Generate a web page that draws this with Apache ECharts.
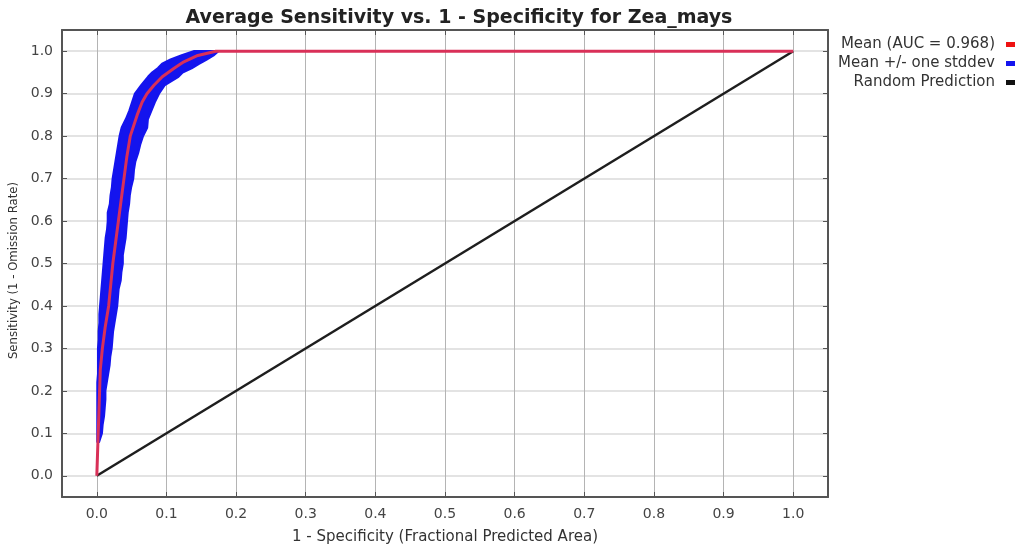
<!DOCTYPE html>
<html>
<head>
<meta charset="utf-8">
<script src="https://cdn.jsdelivr.net/npm/echarts@6/dist/echarts.min.js"></script>
<style>
  html, body { margin: 0; padding: 0; background: #ffffff; }
  #chart { width: 1021px; height: 545px; }
</style>
</head>
<body>
<div id="chart"></div>
<script>
// Mean ROC curve (fraction of predicted area vs. sensitivity)
const meanTpr = [0, 0.05, 0.10, 0.15, 0.20, 0.25, 0.30, 0.35, 0.40, 0.45, 0.50, 0.55, 0.60, 0.65, 0.70, 0.75, 0.80, 0.85, 0.88, 0.90, 0.92, 0.94, 0.96, 0.975, 0.99, 1.0, 1.0];
const meanFpr = [0, 0.001, 0.002, 0.003, 0.004, 0.005, 0.008, 0.012, 0.017, 0.020, 0.023, 0.027, 0.031, 0.035, 0.039, 0.043, 0.048, 0.058, 0.065, 0.072, 0.082, 0.094, 0.111, 0.125, 0.145, 0.171, 1.0];

// Mean +/- one standard deviation band, sampled along sensitivity
const bandTpr = [
  0.08, 0.10, 0.12, 0.14, 0.16, 0.18, 0.20, 0.22, 0.24, 0.26,
  0.28, 0.30, 0.32, 0.34, 0.36, 0.38, 0.40, 0.42, 0.44, 0.46,
  0.48, 0.50, 0.52, 0.54, 0.56, 0.58, 0.60, 0.62, 0.64, 0.66,
  0.68, 0.70, 0.72, 0.74, 0.76, 0.78, 0.80, 0.82, 0.84, 0.86,
  0.88, 0.90, 0.92, 0.94, 0.95, 0.96, 0.97, 0.98, 0.99, 1.0
];
const bandUpperFpr = [
  0.001, 0.001, 0.001, 0.001, 0.001, 0.001, 0.001, 0.001, 0.002, 0.002,
  0.002, 0.002, 0.003, 0.003, 0.004, 0.004, 0.005, 0.006, 0.007, 0.008,
  0.009, 0.010, 0.011, 0.012, 0.013, 0.015, 0.016, 0.016, 0.019, 0.020,
  0.022, 0.023, 0.025, 0.027, 0.029, 0.031, 0.033, 0.036, 0.042, 0.047,
  0.051, 0.055, 0.064, 0.074, 0.080, 0.088, 0.094, 0.106, 0.122, 0.140
];
const bandLowerFpr = [
  0.003, 0.007, 0.008, 0.010, 0.011, 0.012, 0.012, 0.014, 0.016, 0.018,
  0.019, 0.021, 0.022, 0.023, 0.025, 0.027, 0.029, 0.030, 0.031, 0.034,
  0.035, 0.037, 0.037, 0.039, 0.041, 0.042, 0.043, 0.044, 0.046, 0.047,
  0.049, 0.052, 0.053, 0.055, 0.059, 0.062, 0.066, 0.072, 0.073, 0.078,
  0.083, 0.089, 0.097, 0.117, 0.123, 0.136, 0.146, 0.157, 0.167, 0.174
];

// Random prediction reference line
const randomFpr = [0, 1];
const randomTpr = [0, 1];

// Tick values
const xTicks = [0, 0.1, 0.2, 0.3, 0.4, 0.5, 0.6, 0.7, 0.8, 0.9, 1.0];
const yTicks = [0, 0.1, 0.2, 0.3, 0.4, 0.5, 0.6, 0.7, 0.8, 0.9, 1.0];

const aucValue = '0.968';
const meanName = 'Mean (AUC = ' + aucValue + ')';
const bandName = 'Mean +/- one stddev';
const randomName = 'Random Prediction';

const RED = '#d93058';
const BLUE = '#1414ee';
const BLACK = '#1e1e1e';
const FRAME = '#555555';

const zip = (xs, ys) => xs.map((x, i) => [x, ys[i]]);

const tickFont = { fontFamily: 'DejaVu Sans', fontSize: 14, color: '#444444' };

function frameAxis(extra) {
  return Object.assign({
    type: 'value',
    min: -0.05,
    max: 1.05,
    axisLine: { show: true, onZero: false, lineStyle: { color: FRAME, width: 2 } },
    axisTick: { show: true, inside: true, length: 5, lineStyle: { color: FRAME, width: 1 } },
    axisLabel: { show: false },
    splitLine: { show: false }
  }, extra);
}

const chart = echarts.init(document.getElementById('chart'), null, { renderer: 'canvas' });

chart.setOption({
  animation: false,
  backgroundColor: '#ffffff',
  title: {
    text: 'Average Sensitivity vs. 1 - Specificity for Zea_mays',
    left: 454,
    textAlign: 'center',
    top: 4,
    textStyle: { fontFamily: 'DejaVu Sans', fontWeight: 'bold', fontSize: 19, color: '#222222' }
  },
  legend: {
    orient: 'vertical',
    right: 6,
    top: 37,
    padding: 0,
    align: 'right',
    icon: 'rect',
    itemWidth: 9,
    itemHeight: 5,
    itemGap: 4,
    textStyle: { fontFamily: 'DejaVu Sans', fontSize: 15, color: '#333333', padding: [0, 6, 0, 0] },
    data: [
      { name: meanName, itemStyle: { color: '#ee1111' } },
      { name: bandName, itemStyle: { color: BLUE } },
      { name: randomName, itemStyle: { color: '#111111' } }
    ]
  },
  grid: { left: 62, top: 30, width: 766, height: 467, containLabel: false, outerBoundsMode: 'none' },
  xAxis: [
    frameAxis({
      position: 'bottom',
      name: '1 - Specificity (Fractional Predicted Area)',
      nameLocation: 'middle',
      nameGap: 33,
      nameTextStyle: { fontFamily: 'DejaVu Sans', fontSize: 15, color: '#333333' },
      axisTick: { show: true, inside: true, length: 5, customValues: xTicks, lineStyle: { color: FRAME, width: 1 } },
      axisLabel: { show: true, margin: 10, customValues: xTicks, formatter: v => v.toFixed(1), ...tickFont },
      splitLine: { show: true, lineStyle: { color: '#b4b4b4', width: 1 } }
    }),
    frameAxis({
      position: 'top',
      axisTick: { show: true, inside: true, length: 5, customValues: xTicks, lineStyle: { color: FRAME, width: 1 } }
    })
  ],
  yAxis: [
    frameAxis({
      position: 'left',
      name: 'Sensitivity (1 - Omission Rate)',
      nameLocation: 'middle',
      nameGap: 27,
      nameTextStyle: {
        fontFamily: "'Liberation Sans Narrow', 'DejaVu Sans Condensed', 'Liberation Sans'",
        fontSize: 13, color: '#333333', padding: [0, 14, 0, 0]
      },
      axisTick: { show: true, inside: true, length: 5, customValues: yTicks, lineStyle: { color: FRAME, width: 1 } },
      axisLabel: { show: true, margin: 9, customValues: yTicks, formatter: v => v.toFixed(1), ...tickFont },
      splitLine: { show: true, lineStyle: { color: '#dadada', width: 1.5 } }
    }),
    frameAxis({
      position: 'right',
      axisTick: { show: true, inside: true, length: 5, customValues: yTicks, lineStyle: { color: FRAME, width: 1 } }
    })
  ],
  series: [
    {
      name: bandName,
      type: 'custom',
      xAxisIndex: 0,
      yAxisIndex: 0,
      z: 2,
      silent: true,
      itemStyle: { color: BLUE },
      data: [[bandUpperFpr[0], bandTpr[0]]],
      renderItem: function (params, api) {
        const upper = bandTpr.map((t, i) => api.coord([bandUpperFpr[i], t]));
        const lower = bandTpr.map((t, i) => api.coord([bandLowerFpr[i], t])).reverse();
        return {
          type: 'polygon',
          shape: { points: upper.concat(lower) },
          style: { fill: BLUE, stroke: BLUE, lineWidth: 2.5, lineJoin: 'round' }
        };
      }
    },
    {
      name: randomName,
      type: 'line',
      z: 3,
      showSymbol: false,
      silent: true,
      itemStyle: { color: BLACK },
      lineStyle: { color: BLACK, width: 2.5 },
      data: zip(randomFpr, randomTpr)
    },
    {
      name: meanName,
      type: 'line',
      z: 4,
      showSymbol: false,
      silent: true,
      clip: false,
      itemStyle: { color: RED },
      lineStyle: { color: RED, width: 3 },
      data: zip(meanFpr, meanTpr)
    }
  ]
});
</script>
</body>
</html>
